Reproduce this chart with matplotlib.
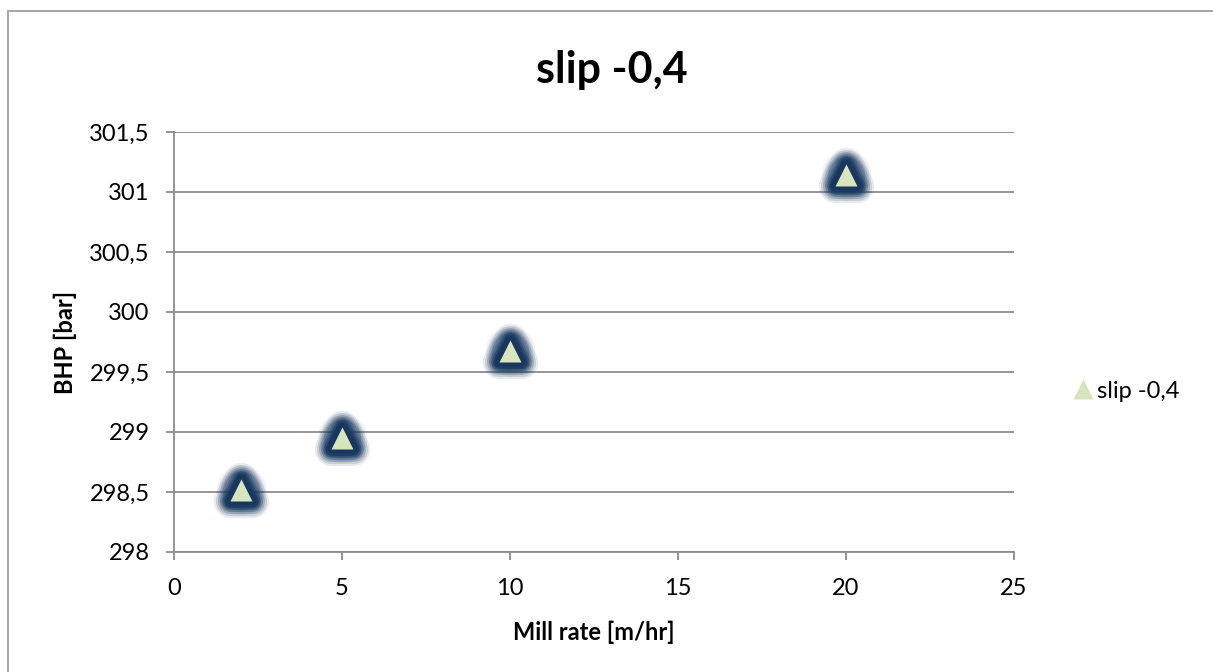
import matplotlib
matplotlib.use("Agg")
import matplotlib.pyplot as plt
from matplotlib.ticker import FuncFormatter, MultipleLocator
from matplotlib.lines import Line2D
from matplotlib.markers import MarkerStyle

mill_rate = [2, 5, 10, 20]
bhp = [298.52, 298.95, 299.675, 301.145]
series_name = "slip -0,4"
title = "slip -0,4"
xlabel = "Mill rate [m/hr]"
ylabel = "BHP [bar]"

plt.rcParams['font.family'] = ['Lato', 'DejaVu Sans']

W, H = 1213, 672
fig = plt.figure(figsize=(W / 100, H / 100), dpi=100)
ax = fig.add_axes([174 / W, 1 - 552 / H, (1014 - 174) / W, (552 - 132) / H])

# outer chart border (top and left visible)
border = '#A6A6A6'
fig.add_artist(Line2D([8 / W, 1.0], [1 - 10.5 / H, 1 - 10.5 / H], transform=fig.transFigure,
                      color=border, linewidth=1.4))
fig.add_artist(Line2D([8 / W, 8 / W], [0, 1 - 10.5 / H], transform=fig.transFigure,
                      color=border, linewidth=1.4))

# soft glow around markers
glow_color = '#17375E'
tri_round = MarkerStyle('^', joinstyle='round')
for ms, a in [(36, 0.06), (33, 0.09), (30, 0.13), (27, 0.2)]:
    ax.plot(mill_rate, bhp, linestyle='none', marker='o', markersize=ms,
            markerfacecolor=glow_color, markeredgecolor='none', alpha=a, zorder=3)
for lw, a in [(24, 0.1), (21, 0.15), (18, 0.22), (15, 0.32), (12, 0.5),
              (9, 0.75), (6, 1.0)]:
    ax.plot(mill_rate, bhp, linestyle='none', marker=tri_round, markersize=16,
            markerfacecolor=glow_color, markeredgecolor=glow_color, markeredgewidth=lw,
            alpha=a, zorder=3)
ax.plot(mill_rate, bhp, linestyle='none', marker='^', markersize=16,
        markerfacecolor='#D7E4BD', markeredgecolor='none', zorder=4, label=series_name)

ax.set_xlim(0, 25)
ax.set_ylim(298, 301.5)
ax.xaxis.set_major_locator(MultipleLocator(5))
ax.yaxis.set_major_locator(MultipleLocator(0.5))
fmt = FuncFormatter(lambda v, p: ('%g' % v).replace('.', ','))
ax.xaxis.set_major_formatter(fmt)
ax.yaxis.set_major_formatter(fmt)

grid_c = '#8C8C8C'
ax.grid(axis='y', color=grid_c, linewidth=1.3)
ax.set_axisbelow(True)
for s in ['top', 'right']:
    ax.spines[s].set_visible(False)
for s in ['left', 'bottom']:
    ax.spines[s].set_color(grid_c)
    ax.spines[s].set_linewidth(1.3)
ax.tick_params(axis='both', direction='out', length=5.5, color=grid_c, width=1.3,
               labelsize=17, labelcolor='black')
ax.tick_params(axis='x', pad=13)
ax.tick_params(axis='y', pad=12)

fig.text(594 / W, 1 - 632 / H, xlabel, fontsize=17, fontweight='bold', ha='center', va='center')
fig.text(65 / W, 1 - 342 / H, ylabel, fontsize=17, fontweight='bold', ha='center', va='center',
         rotation=90)
fig.text(612 / W, 1 - 70 / H, title, fontsize=31, fontweight='bold', ha='center', va='center')

handle = Line2D([], [], linestyle='none', marker='^', markersize=14,
                markerfacecolor='#D7E4BD', markeredgecolor='none')
fig.legend([handle], [series_name], loc='center left', bbox_to_anchor=(1070 / W, 1 - 391 / H),
           frameon=False, fontsize=17, handletextpad=0.05, handlelength=1.1,
           borderpad=0, borderaxespad=0)

fig.savefig('out.png', dpi=100)
